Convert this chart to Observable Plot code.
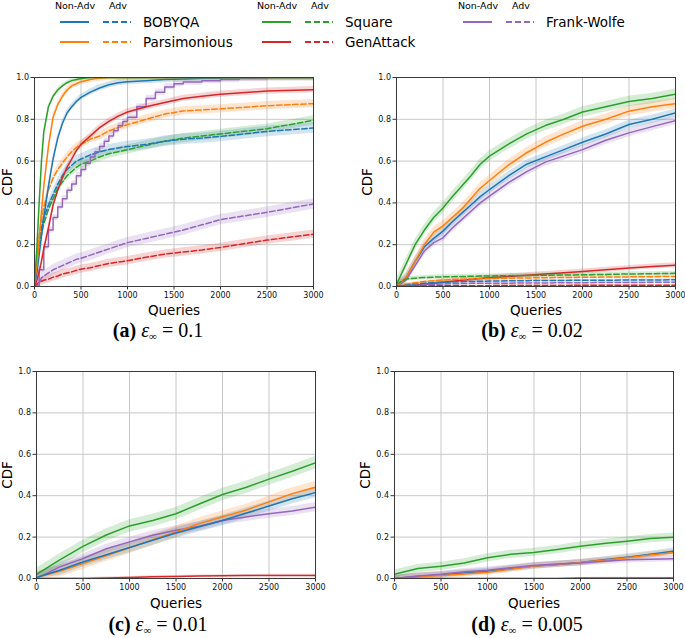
<!DOCTYPE html>
<html><head><meta charset="utf-8">
<script src="https://cdn.jsdelivr.net/npm/d3@7"></script>
<script src="https://cdn.jsdelivr.net/npm/@observablehq/plot@0.6"></script>
<style>
body{margin:0;background:#fff;}
#root{position:relative;width:685px;height:638px;font-family:"DejaVu Sans",sans-serif;overflow:hidden;background:#fff}
.lbl{position:absolute;white-space:nowrap;color:#000;line-height:1}
.cap{position:absolute;white-space:nowrap;font-family:"Liberation Serif","Times New Roman",serif;font-size:20px;line-height:1;color:#000}
.cap sub{font-size:11px;vertical-align:-3px}
</style></head><body><div id="root"></div>
<script>
// ---------- categories / ticks ----------
const methods = ["BOBYQA", "Parsimonious", "Square", "GenAttack", "Frank-Wolfe"];
const colors = ["#1f77b4", "#ff7f0e", "#2ca02c", "#d62728", "#9467bd"];
const xTicks = [0, 500, 1000, 1500, 2000, 2500, 3000];
const yTicks = [0, 0.2, 0.4, 0.6, 0.8, 1.0];

// ---------- panel (a): eps = 0.1 ----------
const qA = [0,25,50,75,100,150,200,250,300,350,400,450,500,600,700,800,900,1000,1200,1400,1600,1800,2000,2500,3000];
const aBobyqa = [0.02,0.06,0.15,0.24,0.33,0.48,0.61,0.71,0.78,0.83,0.86,0.885,0.905,0.93,0.95,0.965,0.975,0.98,0.985,0.99,0.993,0.996,0.998,1,1];
const aPars = [0.02,0.1,0.22,0.36,0.48,0.67,0.81,0.87,0.91,0.94,0.96,0.97,0.98,0.99,0.997,1,1,1,1,1,1,1,1,1,1];
const aSquare = [0.02,0.18,0.4,0.6,0.74,0.86,0.91,0.94,0.96,0.975,0.985,0.99,0.995,1,1,1,1,1,1,1,1,1,1,1,1];
const aGen = [0,0.03,0.07,0.12,0.18,0.28,0.39,0.46,0.52,0.57,0.61,0.65,0.68,0.72,0.76,0.79,0.815,0.835,0.86,0.88,0.9,0.91,0.92,0.935,0.942];
const aBobyqaAdv = [0,0.13,0.22,0.28,0.33,0.39,0.44,0.49,0.53,0.56,0.58,0.6,0.61,0.63,0.645,0.655,0.663,0.67,0.68,0.695,0.705,0.71,0.718,0.742,0.758];
const aParsAdv = [0,0.12,0.24,0.32,0.38,0.46,0.52,0.56,0.59,0.62,0.645,0.665,0.68,0.705,0.72,0.745,0.76,0.775,0.8,0.825,0.84,0.845,0.85,0.865,0.875];
const aSquareAdv = [0,0.1,0.19,0.25,0.3,0.37,0.42,0.47,0.5,0.53,0.55,0.57,0.585,0.6,0.62,0.635,0.645,0.655,0.675,0.695,0.71,0.72,0.73,0.755,0.795];
const aGenAdv = [0,0.01,0.02,0.025,0.03,0.035,0.045,0.05,0.06,0.065,0.07,0.077,0.083,0.09,0.1,0.11,0.117,0.123,0.14,0.155,0.165,0.175,0.187,0.222,0.25];
const aFwAdv = [0,0,0.02,0.04,0.05,0.065,0.08,0.09,0.1,0.11,0.12,0.13,0.135,0.15,0.165,0.18,0.195,0.21,0.23,0.25,0.27,0.295,0.32,0.355,0.395];
const qAfw = [0,50,100,150,200,250,300,350,400,450,500,550,600,650,700,750,800,850,900,950,1000,1100,1200,1300,1400,1500,1600,1800,2000,2200,2500,3000];
const aFw = [0,0.08,0.19,0.27,0.33,0.38,0.42,0.46,0.49,0.53,0.56,0.59,0.62,0.645,0.67,0.695,0.72,0.745,0.77,0.79,0.81,0.86,0.9,0.93,0.955,0.97,0.978,0.985,0.99,0.995,1,1];
const ciA = [0.015,0.015,0.01,0.015,0.015];
const ciAadv = [0.025,0.02,0.022,0.02,0.025];

// ---------- panel (b): eps = 0.02 ----------
const qB = [0,100,200,300,400,500,600,700,800,900,1000,1200,1400,1600,1800,2000,2250,2500,2750,3000];
const bBobyqa = [0,0.04,0.12,0.19,0.23,0.265,0.31,0.35,0.39,0.43,0.464,0.528,0.585,0.62,0.655,0.69,0.73,0.775,0.8,0.831];
const bPars = [0,0.04,0.12,0.2,0.26,0.29,0.33,0.37,0.42,0.47,0.507,0.58,0.64,0.69,0.73,0.767,0.8,0.839,0.86,0.875];
const bSquare = [0.01,0.105,0.2,0.27,0.33,0.376,0.43,0.48,0.53,0.585,0.624,0.68,0.73,0.77,0.8,0.835,0.86,0.885,0.9,0.92];
const bGen = [0,0.003,0.006,0.01,0.015,0.02,0.025,0.03,0.034,0.038,0.042,0.048,0.054,0.06,0.066,0.072,0.08,0.088,0.096,0.102];
const bFw = [0,0.03,0.1,0.17,0.21,0.233,0.28,0.32,0.36,0.4,0.432,0.496,0.55,0.595,0.625,0.655,0.7,0.735,0.765,0.794];
const bBobyqaAdv = [0,0.006,0.011,0.015,0.018,0.02,0.022,0.023,0.024,0.025,0.026,0.027,0.028,0.029,0.029,0.03,0.03,0.031,0.031,0.032];
const bParsAdv = [0,0.01,0.018,0.024,0.028,0.031,0.033,0.035,0.036,0.037,0.038,0.04,0.041,0.042,0.043,0.044,0.045,0.046,0.047,0.048];
const bSquareAdv = [0.01,0.035,0.04,0.043,0.045,0.046,0.047,0.048,0.049,0.05,0.05,0.052,0.053,0.054,0.055,0.056,0.058,0.06,0.061,0.063];
const bGenAdv = [0,0.001,0.002,0.002,0.003,0.003,0.003,0.004,0.004,0.004,0.004,0.005,0.005,0.005,0.005,0.006,0.006,0.006,0.006,0.006];
const bFwAdv = [0,0.003,0.006,0.008,0.01,0.012,0.013,0.014,0.015,0.015,0.016,0.016,0.017,0.017,0.018,0.018,0.019,0.019,0.02,0.02];
const ciB = [0.02,0.025,0.025,0.012,0.02];
const ciBadv = [0.005,0.006,0.01,0.003,0.005];

// ---------- panel (c): eps = 0.01 ----------
const qC = [0,250,500,750,1000,1250,1500,1750,2000,2250,2500,2750,3000];
const cBobyqa = [0.005,0.04,0.08,0.115,0.15,0.185,0.22,0.25,0.28,0.315,0.35,0.385,0.415];
const cPars = [0.005,0.035,0.072,0.11,0.148,0.187,0.225,0.265,0.298,0.33,0.37,0.41,0.441];
const cSquare = [0.02,0.09,0.155,0.21,0.254,0.28,0.313,0.36,0.406,0.44,0.48,0.518,0.559];
const cGen = [0,0,0,0.002,0.005,0.008,0.01,0.012,0.013,0.014,0.015,0.015,0.015];
const cFw = [0,0.056,0.096,0.144,0.177,0.209,0.233,0.252,0.28,0.297,0.313,0.326,0.345];
const ciC = [0.025,0.028,0.03,0.005,0.022];

// ---------- panel (d): eps = 0.005 ----------
const qD = [0,250,500,750,1000,1250,1500,1750,2000,2250,2500,2750,3000];
const dBobyqa = [0,0.01,0.018,0.027,0.035,0.048,0.06,0.068,0.077,0.09,0.103,0.117,0.132];
const dPars = [0,0.01,0.015,0.022,0.03,0.045,0.06,0.068,0.077,0.088,0.1,0.113,0.125];
const dSquare = [0.021,0.048,0.059,0.075,0.1,0.117,0.126,0.14,0.156,0.169,0.18,0.193,0.2];
const dGen = [0,0,0,0,0,0,0,0,0.002,0.003,0.003,0.003,0.003];
const dFw = [0,0.012,0.02,0.033,0.04,0.052,0.063,0.07,0.075,0.083,0.09,0.093,0.096];
const ciD = [0.015,0.015,0.02,0.003,0.015];

// ---------- build ----------
function rows(q, vals, m, ci) {
  return q.map((x, i) => ({q: x, y: vals[i], lo: Math.max(0, vals[i] - ci), hi: Math.min(1, vals[i] + ci), method: m}));
}
function drawPanel(series, pos) {
  const marks = [
    Plot.gridX(xTicks, {stroke: "#c8c8c8", strokeOpacity: 1, strokeWidth: 1}),
    Plot.gridY(yTicks, {stroke: "#c8c8c8", strokeOpacity: 1, strokeWidth: 1})
  ];
  for (const s of series) {
    const r = rows(s.q, s.v, s.m, s.ci);
    marks.push(Plot.areaY(r, {x: "q", y1: "lo", y2: "hi", fill: "method", fillOpacity: 0.2, curve: s.curve || "linear"}));
  }
  for (const s of series) {
    const r = rows(s.q, s.v, s.m, s.ci);
    marks.push(Plot.line(r, {x: "q", y: "y", stroke: "method", strokeWidth: 1.5,
      strokeDasharray: s.adv ? "5.5,2.6" : undefined, curve: s.curve || "linear"}));
  }
  marks.push(
    Plot.axisX(xTicks, {tickSize: 3.5, tickPadding: 2, fontSize: 8, label: null, tickFormat: d => String(d), stroke: "#333"}),
    Plot.axisY(yTicks, {tickSize: 3.5, tickPadding: 2, fontSize: 8, label: null, tickFormat: d => d.toFixed(1), stroke: "#333"}),
    Plot.frame({stroke: "#3a3a3a", strokeWidth: 1})
  );
  const svg = Plot.plot({
    width: pos.w, height: pos.h,
    marginLeft: pos.ml, marginTop: pos.mt, marginRight: pos.w - pos.ml - 279, marginBottom: pos.h - pos.mt - pos.ph,
    x: {domain: [0, 3000], label: null},
    y: {domain: [0, 1], label: null},
    color: {domain: methods, range: colors},
    clip: true,
    style: {fontFamily: "DejaVu Sans", fontSize: "8px", background: "transparent", overflow: "visible", color: "#111"},
    marks
  });
  svg.style.position = "absolute";
  svg.style.left = pos.left + "px";
  svg.style.top = pos.top + "px";
  return svg;
}

const root = document.getElementById("root");

const seriesA = [
  {q: qA, v: aGenAdv, m: "GenAttack", adv: true, ci: ciAadv[3]},
  {q: qA, v: aFwAdv, m: "Frank-Wolfe", adv: true, ci: ciAadv[4]},
  {q: qA, v: aSquareAdv, m: "Square", adv: true, ci: ciAadv[2]},
  {q: qA, v: aBobyqaAdv, m: "BOBYQA", adv: true, ci: ciAadv[0]},
  {q: qA, v: aParsAdv, m: "Parsimonious", adv: true, ci: ciAadv[1]},
  {q: qAfw, v: aFw, m: "Frank-Wolfe", adv: false, ci: ciA[4], curve: "step-after"},
  {q: qA, v: aGen, m: "GenAttack", adv: false, ci: ciA[3]},
  {q: qA, v: aBobyqa, m: "BOBYQA", adv: false, ci: ciA[0]},
  {q: qA, v: aPars, m: "Parsimonious", adv: false, ci: ciA[1]},
  {q: qA, v: aSquare, m: "Square", adv: false, ci: ciA[2]}
];
const seriesB = [
  {q: qB, v: bFw, m: "Frank-Wolfe", adv: false, ci: ciB[4]},
  {q: qB, v: bBobyqa, m: "BOBYQA", adv: false, ci: ciB[0]},
  {q: qB, v: bPars, m: "Parsimonious", adv: false, ci: ciB[1]},
  {q: qB, v: bSquare, m: "Square", adv: false, ci: ciB[2]},
  {q: qB, v: bGen, m: "GenAttack", adv: false, ci: ciB[3]},
  {q: qB, v: bSquareAdv, m: "Square", adv: true, ci: ciBadv[2]},
  {q: qB, v: bParsAdv, m: "Parsimonious", adv: true, ci: ciBadv[1]},
  {q: qB, v: bBobyqaAdv, m: "BOBYQA", adv: true, ci: ciBadv[0]},
  {q: qB, v: bFwAdv, m: "Frank-Wolfe", adv: true, ci: ciBadv[4]},
  {q: qB, v: bGenAdv, m: "GenAttack", adv: true, ci: ciBadv[3]}
];
const seriesC = [
  {q: qC, v: cGen, m: "GenAttack", ci: ciC[3]},
  {q: qC, v: cFw, m: "Frank-Wolfe", ci: ciC[4]},
  {q: qC, v: cPars, m: "Parsimonious", ci: ciC[1]},
  {q: qC, v: cBobyqa, m: "BOBYQA", ci: ciC[0]},
  {q: qC, v: cSquare, m: "Square", ci: ciC[2]}
];
const seriesD = [
  {q: qD, v: dGen, m: "GenAttack", ci: ciD[3]},
  {q: qD, v: dBobyqa, m: "BOBYQA", ci: ciD[0]},
  {q: qD, v: dPars, m: "Parsimonious", ci: ciD[1]},
  {q: qD, v: dFw, m: "Frank-Wolfe", ci: ciD[4]},
  {q: qD, v: dSquare, m: "Square", ci: ciD[2]}
];

root.appendChild(drawPanel(seriesA, {left: 0, top: 70, w: 330, h: 240, ml: 34, mt: 7, ph: 209}));
root.appendChild(drawPanel(seriesB, {left: 359, top: 70, w: 326, h: 240, ml: 37, mt: 7, ph: 209}));
root.appendChild(drawPanel(seriesC, {left: 0, top: 364, w: 330, h: 238, ml: 36, mt: 7, ph: 207}));
root.appendChild(drawPanel(seriesD, {left: 357, top: 364, w: 328, h: 238, ml: 37, mt: 7, ph: 207}));

// ---------- text labels ----------
function label(txt, cx, cy, size, rot) {
  const d = document.createElement("div");
  d.className = "lbl";
  d.textContent = txt;
  d.style.left = cx + "px"; d.style.top = cy + "px";
  d.style.fontSize = size + "px";
  d.style.transform = "translate(-50%,-50%)" + (rot ? " rotate(-90deg)" : "");
  root.appendChild(d);
}
label("CDF", 8, 182, 13.5, true);
label("CDF", 368, 182, 13.5, true);
label("CDF", 8, 475, 13.5, true);
label("CDF", 366, 475, 13.5, true);
label("Queries", 174, 311, 13.5);
label("Queries", 536, 311, 13.5);
label("Queries", 176, 604, 13.5);
label("Queries", 534, 604, 13.5);

function caption(tag, val, cx, cy) {
  const d = document.createElement("div");
  d.className = "cap";
  d.innerHTML = `<b>(${tag})</b> <i>ε</i><sub>∞</sub> = ${val}`;
  d.style.left = cx + "px"; d.style.top = cy + "px";
  d.style.transform = "translate(-50%,-50%)";
  root.appendChild(d);
}
caption("a", "0.1", 158, 331);
caption("b", "0.02", 532, 331);
caption("c", "0.01", 158, 625);
caption("d", "0.005", 527, 625);

// ---------- legend ----------
const legendGroups = [
  {x0: 60, names: ["BOBYQA", "Parsimonious"]},
  {x0: 262, names: ["Square", "GenAttack"]},
  {x0: 463, names: ["Frank-Wolfe"]}
];
const NS = "http://www.w3.org/2000/svg";
const leg = document.createElementNS(NS, "svg");
leg.setAttribute("width", 685); leg.setAttribute("height", 60);
leg.style.position = "absolute"; leg.style.left = "0px"; leg.style.top = "0px";
leg.style.fontFamily = "DejaVu Sans";
function el(tag, attrs, text) {
  const e = document.createElementNS(NS, tag);
  for (const k in attrs) e.setAttribute(k, attrs[k]);
  if (text) e.textContent = text;
  leg.appendChild(e);
  return e;
}
for (const g of legendGroups) {
  el("text", {x: g.x0 + 15, y: 5, "font-size": 9.5, "text-anchor": "middle", "dominant-baseline": "central"}, "Non-Adv");
  el("text", {x: g.x0 + 58, y: 5, "font-size": 9.5, "text-anchor": "middle", "dominant-baseline": "central"}, "Adv");
  g.names.forEach((n, i) => {
    const y = 22 + i * 20;
    const c = colors[methods.indexOf(n)];
    el("line", {x1: g.x0, x2: g.x0 + 29, y1: y, y2: y, stroke: c, "stroke-width": 2});
    el("line", {x1: g.x0 + 43, x2: g.x0 + 71, y1: y, y2: y, stroke: c, "stroke-width": 2, "stroke-dasharray": "6,3"});
    el("text", {x: g.x0 + 83, y: y, "font-size": 13.5, "dominant-baseline": "central"}, n);
  });
}
root.appendChild(leg);
</script></body></html>
